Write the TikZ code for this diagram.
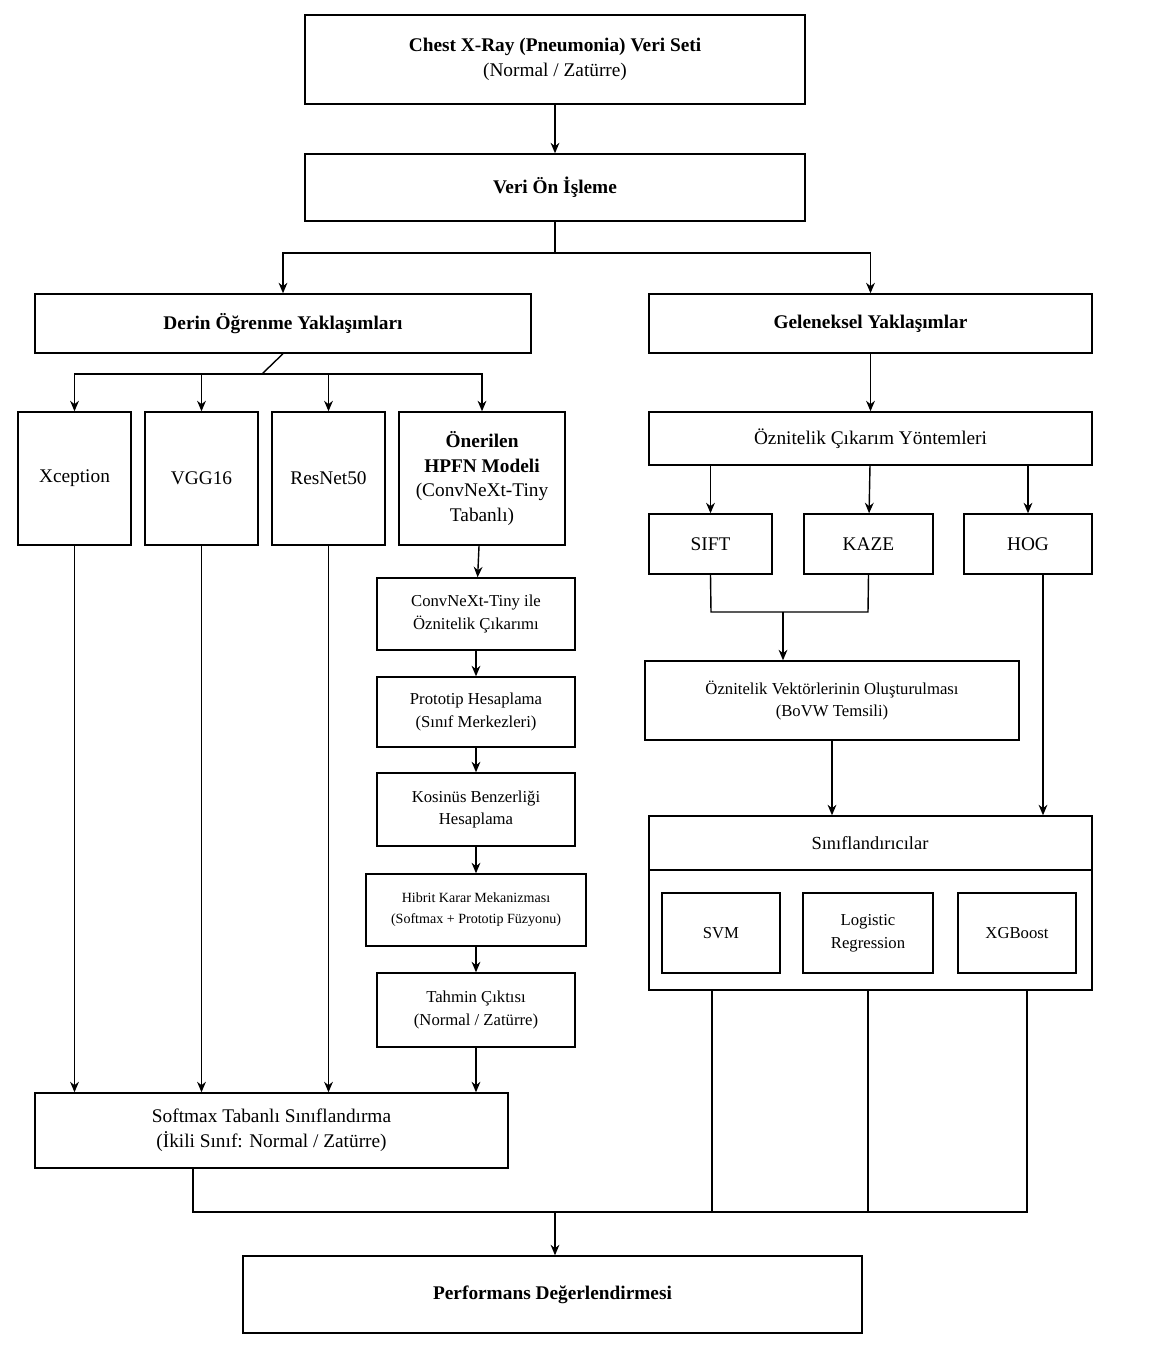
\documentclass[tikz,border=0pt]{standalone}
\usepackage{fontspec}
\setmainfont{Liberation Serif}
\usetikzlibrary{arrows.meta}
\begin{document}
\begin{tikzpicture}[x=0.02cm,y=-0.02cm,
  box/.style={draw,line width=0.8pt,inner sep=1pt,align=center,font=\fontsize{11}{14}\selectfont},
  sm/.style={font=\fontsize{9.5}{13}\selectfont},
  arr/.style={line width=0.8pt,-{Stealth[length=6pt,width=5pt]}},
  ln/.style={line width=0.8pt}]
\useasboundingbox (0,0) rectangle (1154,1363);
\newcommand\bx[7][]{\node[box,#1,minimum width={(#4-#2)*0.02cm},minimum height={(#5-#3)*0.02cm}] (#6) at ({(#2+#4)/2},{(#3+#5)/2}) {#7};}
\bx{305}{15}{805}{104}{top}{\textbf{Chest X-Ray (Pneumonia) Veri Seti}\\(Normal / Zatürre)}
\bx{305}{154}{805}{221}{veri}{\textbf{Veri Ön İşleme}}
\bx{35}{294}{531}{353}{derin}{\textbf{Derin Öğrenme Yaklaşımları}}
\bx{649}{294}{1092}{353}{gelen}{\textbf{Geleneksel Yaklaşımlar}}
\bx{18}{412}{131}{545}{xc}{Xception}
\bx{145}{412}{258}{545}{vgg}{VGG16}
\bx{272}{412}{385}{545}{res}{ResNet50}
\bx{399}{412}{565}{545}{on}{\textbf{Önerilen}\\\textbf{HPFN Modeli}\\(ConvNeXt-Tiny\\Tabanlı)}
\bx[sm]{377}{578}{575}{650}{cn}{ConvNeXt-Tiny ile\\Öznitelik Çıkarımı}
\bx[sm]{377}{677}{575}{747}{pr}{Prototip Hesaplama\\(Sınıf Merkezleri)}
\bx[sm]{377}{773}{575}{846}{ko}{Kosinüs Benzerliği\\Hesaplama}
\bx[font=\fontsize{8}{12}\selectfont]{366}{874}{586}{946}{hi}{Hibrit Karar Mekanizması\\(Softmax + Prototip Füzyonu)}
\bx[sm]{377}{973}{575}{1047}{ta}{Tahmin Çıktısı\\(Normal / Zatürre)}
\bx{35}{1093}{508}{1168}{so}{Softmax Tabanlı Sınıflandırma\\(İkili Sınıf: Normal / Zatürre)}
\bx{649}{412}{1092}{465}{oz}{Öznitelik Çıkarım Yöntemleri}
\bx{649}{514}{772}{574}{sift}{SIFT}
\bx{804}{514}{933}{574}{kaze}{KAZE}
\bx{964}{514}{1092}{574}{hog}{HOG}
\bx[sm]{645}{661}{1019}{740}{ve}{Öznitelik Vektörlerinin Oluşturulması\\(BoVW Temsili)}
\bx[minimum height=0]{649}{816}{1092}{990}{sc}{}
\node[box,draw=none,font=\fontsize{10.5}{13}\selectfont] (sch) at (870,843) {Sınıflandırıcılar};
\draw[ln] (649,870) coordinate (h1) -- (1092,870) coordinate (h2);
\bx[sm]{662}{893}{780}{973}{svm}{SVM}
\bx[sm]{803}{893}{933}{973}{lr}{Logistic\\Regression}
\bx[sm]{958}{893}{1076}{973}{xg}{XGBoost}
\bx{243}{1256}{862}{1333}{pe}{\textbf{Performans Değerlendirmesi}}
% connectors
\draw[arr] (top) -- (veri);
\draw[arr] (veri.south) -- (555,253) coordinate (s1) -| (derin.north);
\draw[arr] (s1) -| (gelen.north);
\draw[ln] (derin.south) -- (262,374) coordinate (s2);
\draw[arr] (s2) -| (xc.north);
\draw[arr] (s2) -| (vgg.north);
\draw[arr] (s2) -| (res.north);
\draw[arr] (s2) -| (on.north);
\draw[arr] (xc.south) -- (xc.south |- so.north);
\draw[arr] (vgg.south) -- (vgg.south |- so.north);
\draw[arr] (res.south) -- (res.south |- so.north);
\draw[arr] (ta.south) -- (ta.south |- so.north);
\draw[arr] (on) -- (cn);
\draw[arr] (cn) -- (pr);
\draw[arr] (pr) -- (ko);
\draw[arr] (ko) -- (hi);
\draw[arr] (hi) -- (ta);
\draw[arr] (gelen) -- (oz);
\draw[arr] (oz.south -| sift) -- (sift);
\draw[arr] (oz) -- (kaze);
\draw[arr] (oz.south -| hog) -- (hog);
\draw[ln] (sift.south) -- (711,612) coordinate (s3) -- (868,612) -- (kaze.south);
\draw[arr] (783,612) coordinate (s4) -- (s4 |- ve.north);
\draw[arr] (832,740) coordinate (s5) -- (s5 |- sc.north);
\draw[arr] (1043,574) coordinate (s6) -- (s6 |- sc.north);
\draw[ln] (193,1168) coordinate (s7) -- (193,1212) -- (1027,1212) -- (1027,990);
\draw[ln] (712,990) -- (712,1212);
\draw[ln] (868,990) -- (868,1212);
\draw[arr] (555,1212) coordinate (s8) -- (s8 |- pe.north);
\end{tikzpicture}
\end{document}
